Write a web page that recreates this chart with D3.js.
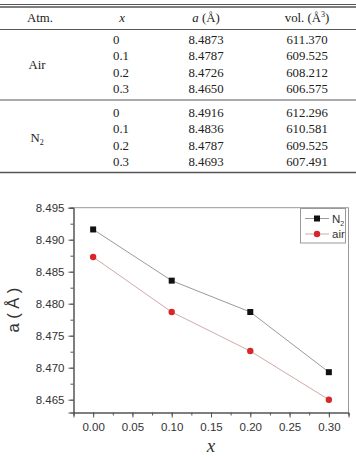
<!DOCTYPE html>
<html>
<head>
<meta charset="utf-8">
<script src="https://cdn.jsdelivr.net/npm/d3@7"></script>
<style>
  body { margin: 0; background: #fff; }
  svg { display: block; }
</style>
</head>
<body>
<script>
"use strict";

// table data
var atmGroups = ["Air", "N2"];
var xVals = ["0", "0.1", "0.2", "0.3"];
var airA = [8.4873, 8.4787, 8.4726, 8.4650];
var airVol = ["611.370", "609.525", "608.212", "606.575"];
var n2A = [8.4916, 8.4836, 8.4787, 8.4693];
var n2Vol = ["612.296", "610.581", "609.525", "607.491"];

// chart data
var xNum = [0, 0.1, 0.2, 0.3];
var xTicks = [0, 0.05, 0.1, 0.15, 0.2, 0.25, 0.3];
var yTicks = [8.465, 8.470, 8.475, 8.480, 8.485, 8.490, 8.495];

function init() {
  var w = 356, h = 457;
  var svg = d3.select("body").append("svg")
    .attr("width", w).attr("height", h);

  var serif = "'Liberation Serif', 'Times New Roman', serif";
  var sans = "'Liberation Sans', Arial, sans-serif";

  // ---------- table ----------
  var tbl = svg.append("g").attr("font-family", serif).attr("font-size", "12.8px").attr("fill", "#222");
  var rule = function (y, sw) {
    tbl.append("line").attr("x1", 0).attr("x2", w).attr("y1", y).attr("y2", y)
      .attr("stroke", "#555").attr("stroke-width", sw);
  };
  rule(4.5, 1);
  rule(7, 1.3);
  rule(29.5, 1);
  rule(100, 1);
  rule(172.5, 1.3);

  var colAtm = 37, colX = 113, colA = 206, colVol = 307;
  var hy = 22;
  tbl.append("text").attr("x", 40).attr("y", hy).attr("text-anchor", "middle").text("Atm.");
  tbl.append("text").attr("x", 122).attr("y", hy).attr("text-anchor", "middle")
    .attr("font-style", "italic").text("x");
  var ah = tbl.append("text").attr("x", colA).attr("y", hy).attr("text-anchor", "middle");
  ah.append("tspan").attr("font-style", "italic").text("a");
  ah.append("tspan").text("  (Å)");
  var vh = tbl.append("text").attr("x", colVol).attr("y", hy).attr("text-anchor", "middle");
  vh.append("tspan").text("vol.  (Å");
  vh.append("tspan").attr("font-size", "8px").attr("dy", -5).text("3");
  vh.append("tspan").attr("dy", 5).text(")");

  var groups = [
    { name: atmGroups[0], a: airA, vol: airVol, y0: 44 },
    { name: atmGroups[1], a: n2A, vol: n2Vol, y0: 117 }
  ];
  var rowH = 16.4;
  groups.forEach(function (g) {
    var gt = tbl.append("text").attr("x", colAtm).attr("y", g.y0 + rowH * 1.5 + 0)
      .attr("text-anchor", "middle");
    if (g.name === "N2") {
      gt.append("tspan").text("N");
      gt.append("tspan").attr("font-size", "8px").attr("dy", 3).text("2");
    } else {
      gt.text(g.name);
    }
    xVals.forEach(function (xv, i) {
      var y = g.y0 + i * rowH;
      tbl.append("text").attr("x", colX).attr("y", y).text(xv);
      tbl.append("text").attr("x", colA).attr("y", y).attr("text-anchor", "middle").text(d3.format(".4f")(g.a[i]));
      tbl.append("text").attr("x", colVol).attr("y", y).attr("text-anchor", "middle").text(g.vol[i]);
    });
  });

  // ---------- chart ----------
  var xScale = d3.scaleLinear().domain([-0.025, 0.325]).range([73.5, 348.5]);
  var yScale = d3.scaleLinear().domain([8.463, 8.495]).range([412.5, 207.7]);
  var x0 = xScale.range()[0], x1 = xScale.range()[1];
  var y0 = yScale.range()[0], y1 = yScale.range()[1];

  var chart = svg.append("g");

  // frame top/right
  chart.append("path")
    .attr("d", "M" + x0 + "," + y1 + "H" + x1 + "V" + y0)
    .attr("fill", "none").attr("stroke", "#999").attr("stroke-width", 1);

  // minor ticks
  var yMinor = d3.range(8.4625, 8.4951, 0.0025).filter(function (v) { return v >= 8.463; });
  var xMinor = d3.range(-0.025, 0.326, 0.025);

  var yAxis = d3.axisLeft(yScale).tickValues(yTicks).tickFormat(d3.format(".3f")).tickSizeOuter(0).tickSize(5);
  var yAxisMinor = d3.axisLeft(yScale).tickValues(yMinor).tickFormat("").tickSizeOuter(0).tickSize(3);
  var xAxis = d3.axisBottom(xScale).tickValues(xTicks).tickFormat(d3.format(".2f")).tickSizeOuter(0).tickSize(5);
  var xAxisMinor = d3.axisBottom(xScale).tickValues(xMinor).tickFormat("").tickSizeOuter(0).tickSize(3);

  var gy = chart.append("g").attr("transform", "translate(" + x0 + ",0)");
  gy.call(yAxisMinor);
  var gy2 = chart.append("g").attr("transform", "translate(" + x0 + ",0)").call(yAxis);
  var gx = chart.append("g").attr("transform", "translate(0," + y0 + ")");
  gx.call(xAxisMinor);
  var gx2 = chart.append("g").attr("transform", "translate(0," + y0 + ")").call(xAxis);

  [gy, gy2, gx, gx2].forEach(function (g) {
    g.selectAll("path, line").attr("stroke", "#555");
    g.selectAll("text").attr("font-family", sans).attr("font-size", "11.5px").attr("fill", "#333");
  });
  gy2.selectAll("text").attr("dx", "-1");
  gx2.selectAll("text").attr("dy", "0.9em");

  // axis titles
  chart.append("text")
    .attr("transform", "translate(19," + ((y0 + y1) / 2) + ") rotate(-90)")
    .attr("text-anchor", "middle")
    .attr("font-family", sans).attr("font-size", "16.5px").attr("fill", "#333")
    .text("a ( Å )");
  chart.append("text")
    .attr("x", (x0 + x1) / 2).attr("y", 452)
    .attr("text-anchor", "middle")
    .attr("font-family", serif).attr("font-style", "italic").attr("font-size", "19px").attr("fill", "#333")
    .text("x");

  // lines
  var series = [
    { name: "N2", vals: n2A, line: "#9a9a9a", marker: "square", color: "#111" },
    { name: "air", vals: airA, line: "#cfaaaa", marker: "circle", color: "#d8262a" }
  ];
  var line = d3.line()
    .x(function (d, i) { return xScale(xNum[i]); })
    .y(function (d) { return yScale(d); });

  series.forEach(function (s) {
    chart.append("path").datum(s.vals)
      .attr("d", line).attr("fill", "none")
      .attr("stroke", s.line).attr("stroke-width", 1);
    var m = chart.append("g");
    if (s.marker === "square") {
      m.selectAll("rect").data(s.vals).enter().append("rect")
        .attr("x", function (d, i) { return xScale(xNum[i]) - 3; })
        .attr("y", function (d) { return yScale(d) - 3; })
        .attr("width", 6).attr("height", 6).attr("fill", s.color);
    } else {
      m.selectAll("circle").data(s.vals).enter().append("circle")
        .attr("cx", function (d, i) { return xScale(xNum[i]); })
        .attr("cy", function (d) { return yScale(d); })
        .attr("r", 3.2).attr("fill", s.color);
    }
  });

  // legend
  var lg = chart.append("g");
  lg.append("rect").attr("x", 300.5).attr("y", 208.5).attr("width", 45).attr("height", 34.5)
    .attr("fill", "#fff").attr("stroke", "#999").attr("stroke-width", 1);
  series.forEach(function (s, i) {
    var ly = 218.5 + i * 15.5;
    lg.append("line").attr("x1", 305).attr("x2", 329).attr("y1", ly).attr("y2", ly)
      .attr("stroke", s.line).attr("stroke-width", 1);
    if (s.marker === "square") {
      lg.append("rect").attr("x", 314).attr("y", ly - 3).attr("width", 6).attr("height", 6).attr("fill", s.color);
    } else {
      lg.append("circle").attr("cx", 317).attr("cy", ly).attr("r", 3.2).attr("fill", s.color);
    }
    var t = lg.append("text").attr("x", 332).attr("y", ly + 4)
      .attr("font-family", sans).attr("font-size", "11.5px").attr("fill", "#333");
    if (s.name === "N2") {
      t.append("tspan").text("N");
      t.append("tspan").attr("font-size", "7px").attr("dy", 3).text("2");
    } else {
      t.text(s.name);
    }
  });
}

window.onload = init;
</script>
</body>
</html>
